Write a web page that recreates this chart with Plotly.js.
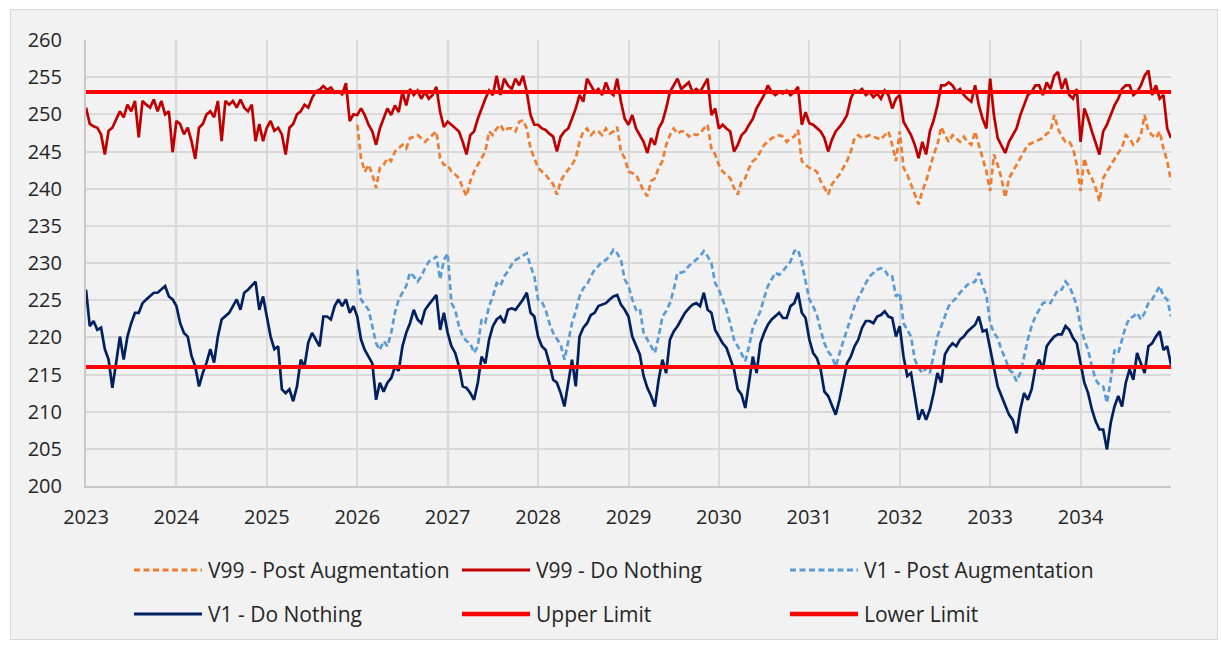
<!DOCTYPE html>
<html><head><meta charset="utf-8">
<script src="https://cdn.plot.ly/plotly-3.0.1.min.js"></script>
<style>
html,body{margin:0;padding:0;background:#ffffff;}
#frame{position:absolute;left:10px;top:9px;width:1206px;height:629px;border:1px solid #d9d9d9;background:#f2f2f2;}
#chart{width:1206px;height:629px;}
</style></head><body>
<div id="frame"><div id="chart"></div></div>
<script>
// ---- Data (semi-monthly readings) ----
const doNothingStartYear = 2023;
const postAugStartYear = 2026;
const pointsPerYear = 24;
const yearTicks = [2023,2024,2025,2026,2027,2028,2029,2030,2031,2032,2033,2034];
const upperLimitValue = 253;
const lowerLimitValue = 216;
const limitSpan = [2023, 2035];

const v99DoNothing = [
250.9,248.7,248.4,248.2,247.3,244.6,247.8,248.2,249.3,250.4,249.6,251.3,250.4,251.8,246.9,251.8,251.3,250.9,252.0,250.4,251.8,250.0,250.4,244.9,
249.1,248.7,247.3,248.2,246.4,244.0,248.2,248.7,250.0,250.4,249.6,251.8,246.4,251.8,251.3,251.8,250.9,252.0,250.9,250.4,251.3,246.4,248.7,246.4,
248.2,249.1,247.8,248.2,247.3,244.6,248.2,248.7,250.0,250.4,251.3,250.9,252.2,253.1,253.3,253.8,253.3,253.6,252.9,253.1,252.7,254.2,249.1,250.0,
249.9,250.8,249.9,248.6,247.7,245.9,248.1,249.4,250.8,249.9,251.2,250.3,253.0,251.2,253.4,252.6,253.2,252.1,253.0,252.1,252.6,253.7,250.3,248.3,
249.0,248.6,248.1,247.7,246.3,244.6,247.2,247.7,249.4,250.8,252.1,253.2,252.6,255.2,252.6,254.8,253.9,253.4,254.8,253.9,255.2,253.0,249.9,248.6,
248.6,248.1,247.9,247.4,247.0,245.0,247.0,247.7,248.1,249.4,250.8,252.6,251.7,254.8,253.9,253.0,253.4,252.6,254.3,253.0,252.6,254.8,251.7,249.4,
248.6,249.9,248.1,247.2,246.3,244.8,246.8,245.9,248.1,249.0,250.8,253.0,253.9,254.8,253.4,253.9,254.3,253.0,253.4,253.0,253.9,254.8,249.9,250.8,
248.1,248.6,248.1,247.7,245.0,245.9,247.2,247.7,248.6,249.4,250.8,251.7,252.6,253.9,253.0,252.6,253.0,252.8,253.2,252.6,253.0,253.7,248.6,250.3,
248.8,248.6,248.1,247.7,246.8,245.0,246.6,247.7,248.3,249.0,249.9,252.1,253.2,253.0,253.4,252.6,253.0,252.3,252.8,252.1,253.2,252.6,250.8,252.1,
252.6,249.0,248.1,247.2,245.9,244.1,246.3,244.6,247.7,249.2,251.2,253.9,253.9,254.3,253.9,253.0,253.4,252.6,252.1,251.7,253.9,251.2,249.4,248.1,
254.8,249.9,246.8,245.9,244.8,246.3,247.2,248.1,249.9,251.2,252.6,253.0,253.9,253.9,252.6,254.3,253.4,255.2,255.7,253.4,254.8,252.6,252.1,253.4,
246.3,250.8,249.4,247.7,246.3,244.6,247.7,248.6,249.9,251.2,252.1,253.4,253.9,253.9,252.6,253.0,253.9,255.2,255.9,252.6,253.9,252.1,252.6,248.1,
246.8
];

const v99PostAug = [
248.6,244.1,242.3,243.2,241.9,240.1,242.8,243.2,244.1,243.7,245.0,245.4,245.9,245.4,246.8,247.0,247.2,246.8,246.3,246.8,247.2,247.7,244.1,243.2,
243.2,242.3,241.9,241.4,240.1,239.0,241.0,242.3,243.2,244.1,245.0,247.7,247.2,248.1,248.6,247.7,248.1,248.1,247.7,249.0,249.2,248.1,245.4,244.1,
242.8,242.3,241.9,241.2,240.6,239.2,241.0,241.9,242.6,243.2,244.1,246.3,247.7,248.1,247.2,247.7,247.7,247.2,248.1,247.4,247.7,248.3,245.0,244.1,
242.3,242.1,241.9,240.8,239.7,239.0,241.0,241.4,242.8,243.7,245.9,247.2,248.1,247.4,247.7,247.7,247.0,247.4,247.2,247.4,248.1,248.6,245.4,244.6,
243.2,242.3,241.9,241.4,240.1,239.2,241.0,241.4,242.8,243.7,244.1,245.0,245.9,246.3,246.8,247.0,247.2,247.0,246.3,246.8,247.0,247.9,243.7,243.2,
242.8,242.6,242.3,241.0,240.1,239.2,240.6,241.2,241.9,242.8,243.7,245.0,246.8,247.2,246.8,247.0,247.2,247.0,246.8,246.6,247.2,247.7,245.9,243.7,
247.7,242.8,241.9,240.6,239.2,237.9,239.7,241.0,242.8,244.6,245.9,248.3,247.2,246.3,247.2,246.8,246.3,247.0,246.3,245.9,247.7,245.9,244.1,242.3,
239.7,244.6,243.2,241.4,238.8,241.4,242.3,243.2,243.9,245.0,245.9,246.1,246.3,246.6,246.8,247.4,247.7,249.9,248.1,247.0,246.3,246.3,245.4,243.2,
239.7,244.1,242.3,241.4,240.1,238.3,241.4,242.3,243.2,244.1,244.8,245.5,247.2,246.8,245.9,246.3,247.2,249.9,247.7,247.2,246.8,247.7,245.4,243.7,
241.0
];

const v1PostAug = [
229.1,225.1,224.4,223.7,221.5,219.2,218.3,219.5,218.8,220.6,223.3,225.1,226.0,226.9,228.7,228.2,227.5,228.2,229.3,230.2,230.4,230.9,227.8,230.4,
231.3,224.6,223.7,221.5,220.1,219.5,219.2,217.9,218.8,222.4,222.0,224.2,225.5,227.3,226.9,228.2,228.9,229.8,230.4,230.7,231.1,231.3,229.6,228.2,
225.1,224.8,223.7,221.9,220.6,219.7,219.0,217.0,219.7,221.9,223.5,225.5,226.6,227.1,228.2,229.1,229.6,230.2,230.4,230.9,231.8,231.3,230.4,227.8,
226.9,225.1,223.7,223.9,220.6,219.7,218.8,217.9,220.1,222.8,223.5,224.6,226.4,228.7,228.7,228.9,229.6,230.0,230.4,230.9,231.6,230.9,230.0,227.3,
226.4,225.1,223.7,221.9,219.7,218.8,217.9,216.8,218.8,221.3,222.4,223.5,225.3,226.9,227.8,228.7,228.4,228.9,229.6,230.2,231.6,231.8,230.0,227.3,
225.1,224.2,223.0,221.0,219.2,218.1,217.4,216.1,217.9,219.5,221.0,222.6,224.2,225.3,226.4,227.3,228.2,228.7,229.1,229.3,229.1,228.2,228.2,225.5,
226.0,221.9,221.0,220.1,217.0,215.9,215.2,215.9,215.2,217.9,220.1,221.5,223.0,224.2,224.8,225.3,226.0,226.6,227.1,227.3,227.5,228.7,226.9,225.7,
221.9,220.6,219.9,218.3,217.2,215.7,215.2,214.1,215.2,217.4,219.7,221.5,222.8,223.7,224.6,224.8,224.6,225.5,226.4,226.4,227.5,226.9,225.7,224.2,
221.5,219.7,218.3,216.1,214.3,213.6,213.4,211.2,214.3,218.3,217.9,219.7,221.5,222.6,222.8,223.3,222.4,223.3,224.6,225.1,226.0,226.9,225.5,225.1,
222.8
];

const v1DoNothing = [
226.4,221.5,222.2,221.0,221.3,218.4,217.0,213.2,216.6,220.1,217.0,220.1,221.9,223.3,223.3,224.6,225.1,225.5,226.0,226.0,226.4,226.9,225.5,225.1,
224.2,221.9,220.6,220.1,217.5,216.1,213.4,215.2,216.6,218.4,216.6,220.1,222.4,222.8,223.3,224.2,225.1,223.7,226.0,226.4,226.9,227.5,223.7,225.5,
222.8,220.1,218.4,218.8,213.0,212.5,213.0,211.4,213.4,217.0,216.1,219.3,220.6,219.7,218.8,222.8,222.8,222.4,224.2,225.1,224.2,225.1,223.3,224.2,
222.8,219.7,218.3,217.4,216.5,211.6,213.9,212.7,213.9,214.5,216.0,215.5,218.8,220.6,221.9,223.7,222.4,221.9,223.7,224.4,225.1,225.7,221.0,223.3,
220.6,218.8,217.9,216.1,213.4,213.2,212.5,211.6,213.9,217.4,216.5,219.7,221.5,222.4,222.8,221.9,223.7,223.9,223.7,224.4,225.1,226.0,223.3,222.8,
220.1,218.8,218.3,216.5,214.3,213.9,212.5,210.7,213.9,217.0,213.4,220.1,221.3,221.9,223.0,223.3,224.2,224.4,224.6,225.1,225.5,225.7,224.4,223.7,
222.8,220.1,218.8,217.7,214.8,213.2,212.1,210.7,214.3,217.0,215.2,219.7,220.8,221.5,222.4,223.3,223.9,224.4,224.6,224.2,226.0,223.7,223.3,221.0,
220.1,219.2,218.6,217.0,215.7,213.0,212.3,210.5,213.9,217.4,215.2,219.2,220.6,221.7,222.4,222.8,223.3,222.6,222.6,224.2,224.6,226.0,223.3,222.6,
219.7,217.9,217.2,215.7,212.7,212.1,210.9,209.6,211.6,213.9,216.5,217.4,218.8,219.7,221.3,222.2,222.2,221.9,222.8,223.0,223.5,222.8,222.6,220.1,
221.5,217.4,214.8,215.2,212.1,208.9,210.3,208.9,210.3,212.5,215.2,213.9,217.7,218.6,219.2,218.8,219.7,220.1,220.8,221.3,221.7,222.8,220.8,221.0,
218.3,215.7,213.4,212.1,210.7,209.6,208.9,207.1,210.3,212.5,211.6,213.0,215.9,217.0,215.7,218.8,219.5,220.1,220.4,220.4,221.5,221.0,219.9,219.2,
216.5,213.9,212.5,210.3,208.7,207.6,207.6,204.9,208.5,210.7,212.1,210.7,213.9,215.7,214.3,217.9,216.5,215.2,218.8,219.2,220.1,220.8,218.3,218.8,
216.3
];

const seriesNames = ["V99 - Post Augmentation","V99 - Do Nothing","V1 - Post Augmentation","V1 - Do Nothing","Upper Limit","Lower Limit"];

// ---- Styling ----
const colors = ["#ED7D31","#C00000","#5B9BD5","#002060","#FF0000","#FF0000"];
const dashes = ["6px,3.5px","solid","6px,3.5px","solid","solid","solid"];
const widths = [2.7,2.7,2.7,2.7,4,4];
const FONT = "'Open Sans', 'Noto Sans', sans-serif";
const TXT = "#262626";

function timeAxis(start, n){ const x=[]; for(let i=0;i<n;i++) x.push(start + i/pointsPerYear); return x; }

const seriesX = [
  timeAxis(postAugStartYear, v99PostAug.length),
  timeAxis(doNothingStartYear, v99DoNothing.length),
  timeAxis(postAugStartYear, v1PostAug.length),
  timeAxis(doNothingStartYear, v1DoNothing.length),
  limitSpan, limitSpan
];
const seriesY = [v99PostAug, v99DoNothing, v1PostAug, v1DoNothing,
  limitSpan.map(()=>upperLimitValue), limitSpan.map(()=>lowerLimitValue)];

const traces = seriesNames.map((nm,i)=>({
  type:'scatter', mode:'lines', name:nm, x:seriesX[i], y:seriesY[i],
  line:{color:colors[i], width:widths[i], dash:dashes[i]},
  hoverinfo:'x+y+name', showlegend:false
}));

// ---- Manual legend (3 columns x 2 rows below the plot) ----
const plotLeft = 86, plotTop = 40, plotW = 1085, plotH = 446;
const px2x = px => (px - plotLeft)/plotW;
const py2y = py => (plotTop + plotH - py)/plotH;
const colX = [134, 462, 790], rowY = [570, 614], symLen = 68;
const shapes = [], annotations = [];
seriesNames.forEach((nm,i)=>{
  const c = i%3, r = Math.floor(i/3);
  shapes.push({type:'line', xref:'paper', yref:'paper',
    x0:px2x(colX[c]), x1:px2x(colX[c]+symLen), y0:py2y(rowY[r]), y1:py2y(rowY[r]),
    line:{color:colors[i], width:widths[i]+0.3, dash:dashes[i]}});
  annotations.push({xref:'paper', yref:'paper', x:px2x(colX[c]+symLen+4), y:py2y(rowY[r]),
    xanchor:'left', yanchor:'middle', text:nm, showarrow:false,
    font:{family:FONT, size:21, color:TXT}});
});

const layout = {
  width:1206, height:629,
  margin:{l:75, r:46, t:30, b:153, pad:0},
  paper_bgcolor:'rgba(0,0,0,0)', plot_bgcolor:'rgba(0,0,0,0)',
  font:{family:FONT, color:TXT},
  showlegend:false,
  xaxis:{range:[2023,2035], tickmode:'array', tickvals:yearTicks, ticktext:yearTicks.map(String),
    showgrid:true, gridcolor:'#d9d9d9', gridwidth:2, zeroline:false,
    showline:true, linecolor:'#c8c8c8', linewidth:2, ticks:'', ticklabelstandoff:12,
    tickfont:{family:FONT, size:20, color:TXT}, fixedrange:true},
  yaxis:{range:[200,260], dtick:5, tick0:200,
    showgrid:true, gridcolor:'#d9d9d9', gridwidth:2, zeroline:false,
    showline:true, linecolor:'#c8c8c8', linewidth:2, ticks:'', ticklabelstandoff:18,
    tickfont:{family:FONT, size:20, color:TXT}, fixedrange:true},
  shapes:shapes, annotations:annotations
};

Plotly.newPlot('chart', traces, layout, {displayModeBar:false, staticPlot:true});
</script>
</body></html>
